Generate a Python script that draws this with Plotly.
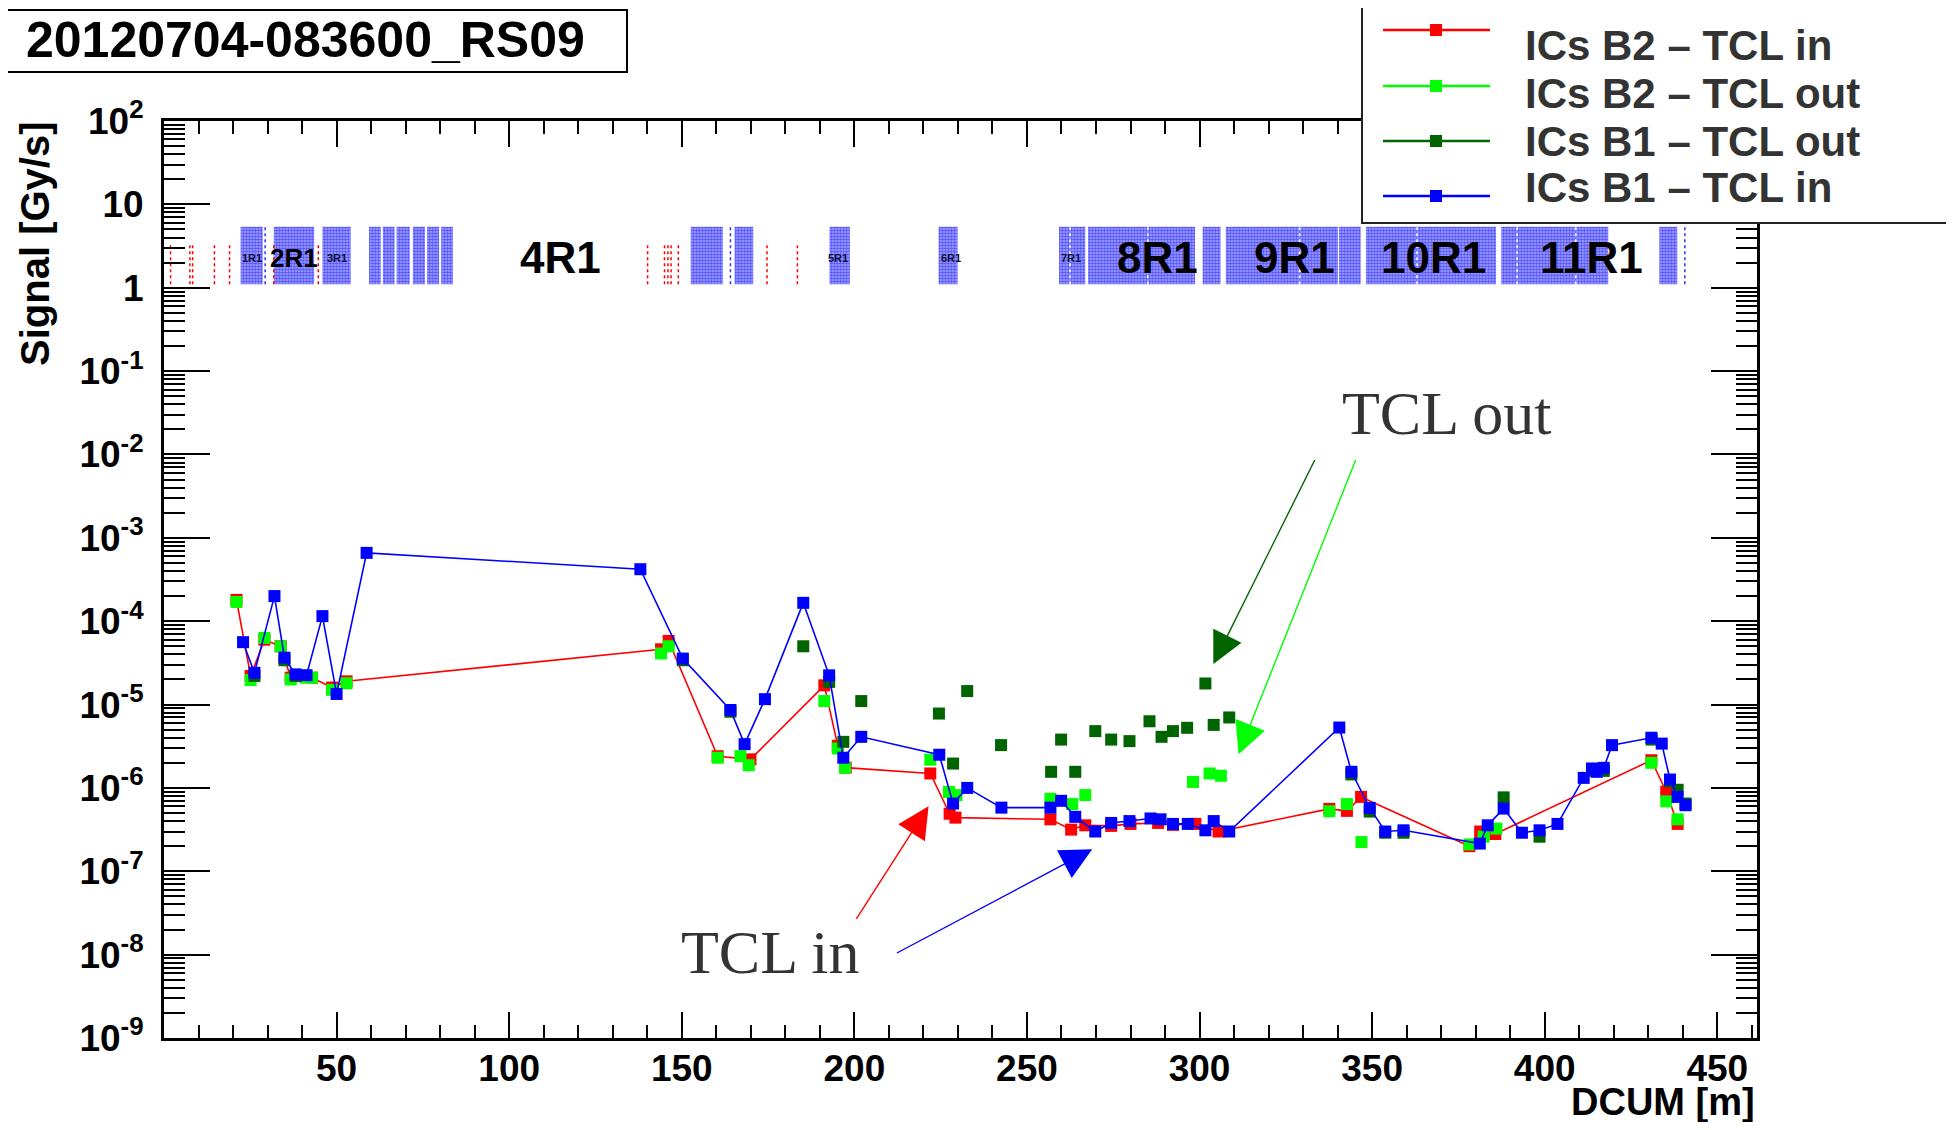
import math
import plotly.graph_objects as go

# ---------------- data ----------------
b2_in_x = [21.0, 25.1, 29.1, 33.8, 36.7, 42.9, 48.7, 52.9, 144.0, 146.2, 160.4, 169.9, 191.3, 195.2, 197.5,
           222.0, 227.6, 229.3, 256.8, 262.8, 266.9, 274.4, 280.0, 288.0, 292.3, 298.8, 305.5,
           337.6, 342.7, 346.8, 378.2, 381.3, 385.7, 430.9, 435.2, 438.5]
b2_in_y = [1.8e-4, 2.2e-5, 6.0e-5, 5.0e-5, 2.1e-5, 2.1e-5, 1.6e-5, 1.9e-5, 4.6e-5, 5.8e-5, 2.4e-6, 2.2e-6, 1.7e-5, 3.2e-6, 1.75e-6,
           1.49e-6, 4.9e-7, 4.4e-7, 4.2e-7, 3.16e-7, 3.56e-7, 3.5e-7, 3.7e-7, 3.8e-7, 3.6e-7, 3.7e-7, 3.0e-7,
           5.6e-7, 5.3e-7, 7.8e-7, 2.0e-7, 3.0e-7, 2.8e-7, 2.15e-6, 9.0e-7, 3.7e-7]

b2_out_x = [21.0, 25.1, 29.1, 33.8, 36.7, 41.0, 42.9, 48.7, 52.9, 144.0, 146.2, 160.4, 167.0, 169.4, 191.3, 195.2, 197.3,
            222.0, 227.4, 229.6, 256.8, 263.1, 266.9, 298.1, 302.9, 306.2, 337.6, 342.7, 346.9,
            378.2, 382.3, 386.0, 430.9, 435.2, 438.5]
b2_out_y = [1.7e-4, 1.97e-5, 6.3e-5, 5.0e-5, 2.0e-5, 2.1e-5, 2.1e-5, 1.5e-5, 1.8e-5, 4.1e-5, 5.0e-5, 2.3e-6, 2.4e-6, 1.87e-6, 1.1e-5, 2.97e-6, 1.74e-6,
            2.18e-6, 8.95e-7, 8.2e-7, 7.4e-7, 6.4e-7, 8.2e-7, 1.18e-6, 1.49e-6, 1.4e-6, 5.25e-7, 6.4e-7, 2.24e-7,
            2.1e-7, 2.6e-7, 3.25e-7, 2.0e-6, 6.9e-7, 4.2e-7]

b1_out_x = [26.2, 34.9, 38.1, 150.3, 164.1, 185.2, 192.7, 196.8, 202.0, 224.5, 228.6, 232.7, 242.5, 257.0, 259.9, 264.0,
            269.8, 274.4, 279.7, 285.5, 289.0, 292.3, 296.4, 301.7, 304.1, 308.6, 344.0, 349.3, 353.8, 359.1,
            388.1, 398.5, 413.7, 417.1, 431.0, 436.3, 438.5, 440.8]
b1_out_y = [2.2e-5, 3.4e-5, 2.2e-5, 3.4e-5, 8.2e-6, 5.0e-5, 1.87e-5, 3.57e-6, 1.1e-5, 7.8e-6, 1.96e-6, 1.45e-5, 3.26e-6, 1.56e-6, 3.8e-6, 1.56e-6,
            4.8e-6, 3.8e-6, 3.64e-6, 6.3e-6, 4.1e-6, 4.8e-6, 5.26e-6, 1.79e-5, 5.7e-6, 7.0e-6, 1.45e-6, 5.2e-7, 2.9e-7, 2.9e-7,
            7.7e-7, 2.6e-7, 1.6e-6, 1.6e-6, 3.8e-6, 1.2e-6, 9.5e-7, 6.5e-7]

b1_in_x = [22.9, 26.2, 32.0, 34.9, 38.1, 41.3, 45.9, 50.0, 58.7, 138.0, 150.3, 164.1, 168.2, 174.1, 185.2, 192.7, 196.8, 202.0,
           224.6, 228.6, 232.7, 242.6, 256.8, 259.9, 264.0, 269.8, 274.4, 279.7, 285.8, 288.7, 292.3, 296.6, 301.7, 304.1, 308.6,
           340.5, 344.0, 349.3, 353.8, 359.1, 381.2, 383.5, 388.1, 393.4, 398.5, 403.7, 411.3, 413.7, 415.1, 417.1, 419.5,
           430.9, 433.9, 436.3, 438.5, 440.8]
b1_in_y = [5.6e-5, 2.4e-5, 2.0e-4, 3.65e-5, 2.3e-5, 2.25e-5, 1.15e-4, 1.34e-5, 6.6e-4, 4.2e-4, 3.56e-5, 8.6e-6, 3.35e-6, 1.16e-5, 1.66e-4, 2.24e-5, 2.3e-6, 4.1e-6,
           2.5e-6, 6.5e-7, 1.0e-6, 5.8e-7, 5.8e-7, 7.0e-7, 4.5e-7, 3.0e-7, 3.8e-7, 4.0e-7, 4.3e-7, 4.2e-7, 3.7e-7, 3.7e-7, 3.1e-7, 4.0e-7, 3.0e-7,
           5.3e-6, 1.56e-6, 5.75e-7, 3.0e-7, 3.1e-7, 2.15e-7, 3.56e-7, 5.65e-7, 2.9e-7, 3.1e-7, 3.7e-7, 1.32e-6, 1.71e-6, 1.56e-6, 1.74e-6, 3.26e-6,
           4.0e-6, 3.4e-6, 1.26e-6, 7.8e-7, 6.2e-7]

# machine layout strip (DCUM ranges)
region_start = [22.2, 31.8, 45.9, 59.4, 63.4, 67.4, 72.1, 76.2, 80.3, 152.6, 165.3, 192.8, 224.4,
                259.3, 267.7, 300.9, 307.6, 340.4, 348.2, 387.4, 433.2]
region_end = [28.6, 43.5, 54.1, 62.8, 66.8, 71.2, 75.6, 79.7, 83.7, 161.9, 170.7, 198.7, 229.9,
              266.9, 298.7, 306.1, 340.1, 346.7, 385.9, 418.4, 438.4]
region_low, region_high = 1.1, 5.4
red_marks = [1.9, 7.5, 8.3, 14.6, 19.0, 31.8, 44.7, 140.1, 145.0, 146.0, 146.9, 149.0, 174.7, 183.5]
red_low, red_high = 1.1, 3.3
blue_marks = [29.3, 164.1, 440.6]
white_marks = [262.5, 285.0, 329.0, 363.0, 392.0, 409.0]

big_labels = ["4R1", "8R1", "9R1", "10R1", "11R1"]
big_label_x = [114.9, 287.9, 327.5, 367.7, 413.5]
small_labels = ["1R1", "3R1", "5R1", "6R1", "7R1"]
small_label_x = [25.4, 50.2, 195.4, 228.1, 262.9]
mid_labels = ["2R1"]
mid_label_x = [37.7]
label_y = 2.3

x_ticks = [50, 100, 150, 200, 250, 300, 350, 400, 450]
y_exps = list(range(-9, 3))
y_ticktext = ["10<sup>%d</sup>" % e if e not in (0, 1) else ("1" if e == 0 else "10") for e in y_exps]

series_names = ["ICs B2 \u2013 TCL in", "ICs B2 \u2013 TCL out", "ICs B1 \u2013 TCL out", "ICs B1 \u2013 TCL in"]
series_colors = ["#ff0000", "#00ff00", "#006400", "#0000ff"]

# ---------------- geometry ----------------
W, H = 1938, 1114
L, R, T, B = 164, 1757, 121, 1038      # plot area in page coords
OFF = 8
PW, PH = R - L, B - T
def px(xp):
    return (xp - L) / PW
def py(yp):
    return (B - yp) / PH

FONT = "Liberation Sans, Arial, sans-serif"
SERIF = "Liberation Serif, Times New Roman, serif"

fig = go.Figure()

rx, ry = [], []
for s, e in zip(region_start, region_end):
    rx += [s, s, e, e, s, None]
    ry += [region_low, region_high, region_high, region_low, region_low, None]
fig.add_trace(go.Scatter(x=rx, y=ry, mode="lines", fill="toself", line=dict(width=0, color="#4040ff"),
                         fillcolor="#6a6aff",
                         fillpattern=dict(shape=".", fgcolor="#0000ff", bgcolor="#a8a8ff", size=3, solidity=0.6),
                         showlegend=False, hoverinfo="skip"))
wx, wy = [], []
for m in white_marks:
    wx += [m, m, None]
    wy += [region_low, region_high, None]
fig.add_trace(go.Scatter(x=wx, y=wy, mode="lines", line=dict(color="white", width=1.5, dash="dot"),
                         showlegend=False, hoverinfo="skip"))
mx, my = [], []
for m in red_marks:
    mx += [m, m, None]
    my += [red_low, red_high, None]
fig.add_trace(go.Scatter(x=mx, y=my, mode="lines", line=dict(color="#ff0000", width=1.5, dash="dot"),
                         showlegend=False, hoverinfo="skip"))
bx, by = [], []
for m in blue_marks:
    bx += [m, m, None]
    by += [region_low, region_high, None]
fig.add_trace(go.Scatter(x=bx, y=by, mode="lines", line=dict(color="#3030ff", width=1.5, dash="dot"),
                         showlegend=False, hoverinfo="skip"))

MS = 12
fig.add_trace(go.Scatter(x=b2_in_x, y=b2_in_y, mode="lines+markers", name=series_names[0],
                         line=dict(color=series_colors[0], width=1.6),
                         marker=dict(symbol="square", size=MS, color=series_colors[0])))
fig.add_trace(go.Scatter(x=b2_out_x, y=b2_out_y, mode="markers", name=series_names[1],
                         marker=dict(symbol="square", size=MS, color=series_colors[1])))
fig.add_trace(go.Scatter(x=b1_out_x, y=b1_out_y, mode="markers", name=series_names[2],
                         marker=dict(symbol="square", size=MS, color=series_colors[2])))
fig.add_trace(go.Scatter(x=b1_in_x, y=b1_in_y, mode="lines+markers", name=series_names[3],
                         line=dict(color=series_colors[3], width=1.6),
                         marker=dict(symbol="square", size=MS, color=series_colors[3])))

ann = []
for t, x in zip(big_labels, big_label_x):
    ann.append(dict(x=x, y=math.log10(label_y), xref="x", yref="y", text="<b>%s</b>" % t, showarrow=False,
                    xanchor="center", yanchor="middle", font=dict(family=FONT, size=44, color="black")))
for t, x in zip(mid_labels, mid_label_x):
    ann.append(dict(x=x, y=math.log10(label_y), xref="x", yref="y", text="<b>%s</b>" % t, showarrow=False,
                    xanchor="center", yanchor="middle", font=dict(family=FONT, size=26, color="black")))
for t, x in zip(small_labels, small_label_x):
    ann.append(dict(x=x, y=math.log10(label_y), xref="x", yref="y", text="<b>%s</b>" % t, showarrow=False,
                    xanchor="center", yanchor="middle", font=dict(family=FONT, size=11, color="#111133")))

arrows = [((304.0, -4.513), (333.6, -2.049), "#006400"),
          ((311.3, -5.595), (345.4, -2.049), "#00ff00"),
          ((221.5, -6.22), (200.3, -7.59), "#ff0000"),
          ((268.9, -6.737), (211.9, -7.99), "#0000ff")]
for (tx, ty), (sx, sy), c in arrows:
    ann.append(dict(x=tx, y=ty, ax=sx, ay=sy, xref="x", yref="y", axref="x", ayref="y", text="",
                    showarrow=True, arrowhead=2, arrowsize=4.5, arrowwidth=1.4, arrowcolor=c))
ann.append(dict(x=px(1447), y=py(413), xref="paper", yref="paper", text="TCL out", showarrow=False,
                xanchor="center", yanchor="middle", font=dict(family=SERIF, size=62, color="#333333")))
ann.append(dict(x=px(770), y=py(952), xref="paper", yref="paper", text="TCL in", showarrow=False,
                xanchor="center", yanchor="middle", font=dict(family=SERIF, size=62, color="#333333")))

ann.append(dict(x=px(305), y=py(40), xref="paper", yref="paper", text="<b>20120704-083600_RS09</b>",
                showarrow=False, xanchor="center", yanchor="middle",
                font=dict(family=FONT, size=50, color="black")))
ann.append(dict(x=px(35), y=py(244), xref="paper", yref="paper", text="<b>Signal [Gy/s]</b>", textangle=-90,
                showarrow=False, xanchor="center", yanchor="middle", font=dict(family=FONT, size=40, color="black")))
ann.append(dict(x=px(1757), y=py(1102), xref="paper", yref="paper", text="<b>DCUM [m]</b>",
                showarrow=False, xanchor="right", yanchor="middle", font=dict(family=FONT, size=38, color="black")))

shapes = []
shapes.append(dict(type="rect", xref="paper", yref="paper", x0=px(-20), x1=px(1980), y0=py(5), y1=py(-20),
                   fillcolor="#a9c5ea", line=dict(width=0), layer="above"))
shapes.append(dict(type="rect", xref="paper", yref="paper", x0=px(-3), x1=px(627), y0=py(72), y1=py(10),
                   fillcolor="white", line=dict(color="black", width=2), layer="below"))
shapes.append(dict(type="rect", xref="paper", yref="paper", x0=px(1362), x1=px(1990), y0=py(223), y1=py(6),
                   fillcolor="white", line=dict(color="#222222", width=2), layer="above"))
leg_line_y = [30, 86, 141, 196]
leg_text_y = [46, 93.5, 141, 188]
for i in range(4):
    yl = leg_line_y[i]
    shapes.append(dict(type="line", xref="paper", yref="paper", x0=px(1383), x1=px(1490), y0=py(yl), y1=py(yl),
                       line=dict(color=series_colors[i], width=2.5), layer="above"))
    shapes.append(dict(type="rect", xref="paper", yref="paper", x0=px(1430), x1=px(1442), y0=py(yl + 6), y1=py(yl - 6),
                       fillcolor=series_colors[i], line=dict(width=0), layer="above"))
    ann.append(dict(x=px(1523), y=py(leg_text_y[i]), xref="paper", yref="paper", text="<b>%s</b>" % series_names[i],
                    showarrow=False, xanchor="left", yanchor="middle",
                    font=dict(family=FONT, size=42, color="#333333")))

fig.update_layout(
    width=W, height=H,
    margin=dict(l=L - OFF, r=W - (R - OFF), t=T - OFF, b=H - (B - OFF)),
    paper_bgcolor="white", plot_bgcolor="white", showlegend=False,
    annotations=ann, shapes=shapes,
    xaxis=dict(range=[0, 461.5], showgrid=False, zeroline=False, showline=True, linecolor="black", linewidth=3,
               mirror="ticks", ticks="inside", ticklen=26, tickwidth=1.5, tickcolor="black",
               tickmode="array", tickvals=x_ticks, ticktext=[str(v) for v in x_ticks],
               tickfont=dict(family=FONT, size=37, color="black", weight="bold"), ticklabelstandoff=-4,
               minor=dict(ticks="inside", ticklen=13, tickwidth=1.5, tickcolor="black", tick0=0, dtick=10, showgrid=False)),
    yaxis=dict(type="log", range=[-9, 2], showgrid=False, zeroline=False, showline=True, linecolor="black", linewidth=3,
               mirror="ticks", ticks="inside", ticklen=46, tickwidth=1.5, tickcolor="black",
               tickmode="array", tickvals=[10.0 ** e for e in y_exps], ticktext=y_ticktext,
               tickfont=dict(family=FONT, size=37, color="black", weight="bold"), ticklabelstandoff=10,
               minor=dict(ticks="inside", ticklen=21, tickwidth=1.5, tickcolor="black", dtick="D1", showgrid=False)),
)

fig.write_html("out.html")
